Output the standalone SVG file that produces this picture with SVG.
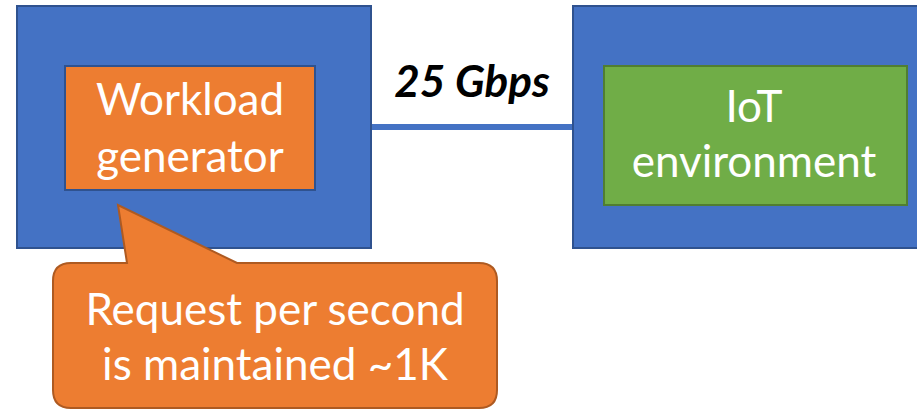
<svg xmlns="http://www.w3.org/2000/svg" width="917" height="410" viewBox="0 0 917 410">
<style>
.outer{fill:#4472C4;stroke:#2F528F;stroke-width:2}
.lbl{font-family:Lato,"Open Sans","Liberation Sans",sans-serif;font-size:44px;fill:#FFFFFF;text-anchor:middle}
.link{stroke:#4472C4;stroke-width:6;fill:none}
</style>
<rect width="917" height="410" fill="#FFFFFF"/>
<g id="connectors">
<line class="link" x1="371" y1="127" x2="573" y2="127"/>
<text x="472" y="97" font-family="Lato,'Open Sans','Liberation Sans',sans-serif" font-size="44" font-weight="bold" font-style="italic" text-anchor="middle" fill="#000000">25 Gbps</text>
</g>
<g id="host-left">
<rect class="outer" x="17" y="6" width="354" height="242"/>
</g>
<g id="host-right">
<rect class="outer" x="573" y="6" width="360" height="242"/>
</g>
<g id="workload-generator">
<rect x="65" y="66" width="250" height="124" fill="#ED7D31" stroke="#2F528F" stroke-width="2"/>
<text class="lbl" x="190" y="115">Workload</text>
<text class="lbl" x="190" y="172">generator</text>
</g>
<g id="iot-environment">
<rect x="604" y="66" width="303" height="139" fill="#70AD47" stroke="#507E32" stroke-width="2"/>
<text class="lbl" x="754" y="122">IoT</text>
<text class="lbl" x="754" y="177">environment</text>
</g>
<g id="callout">
<path d="M71,263 L127,263 L118,205 L237,263 L479,263 Q497,263 497,281 L497,390 Q497,408 479,408 L71,408 Q53,408 53,390 L53,281 Q53,263 71,263 Z" fill="#ED7D31" stroke="#AE5A21" stroke-width="2"/>
<text class="lbl" x="275" y="325">Request per second</text>
<text class="lbl" x="275" y="380">is maintained ~1K</text>
</g>
</svg>
